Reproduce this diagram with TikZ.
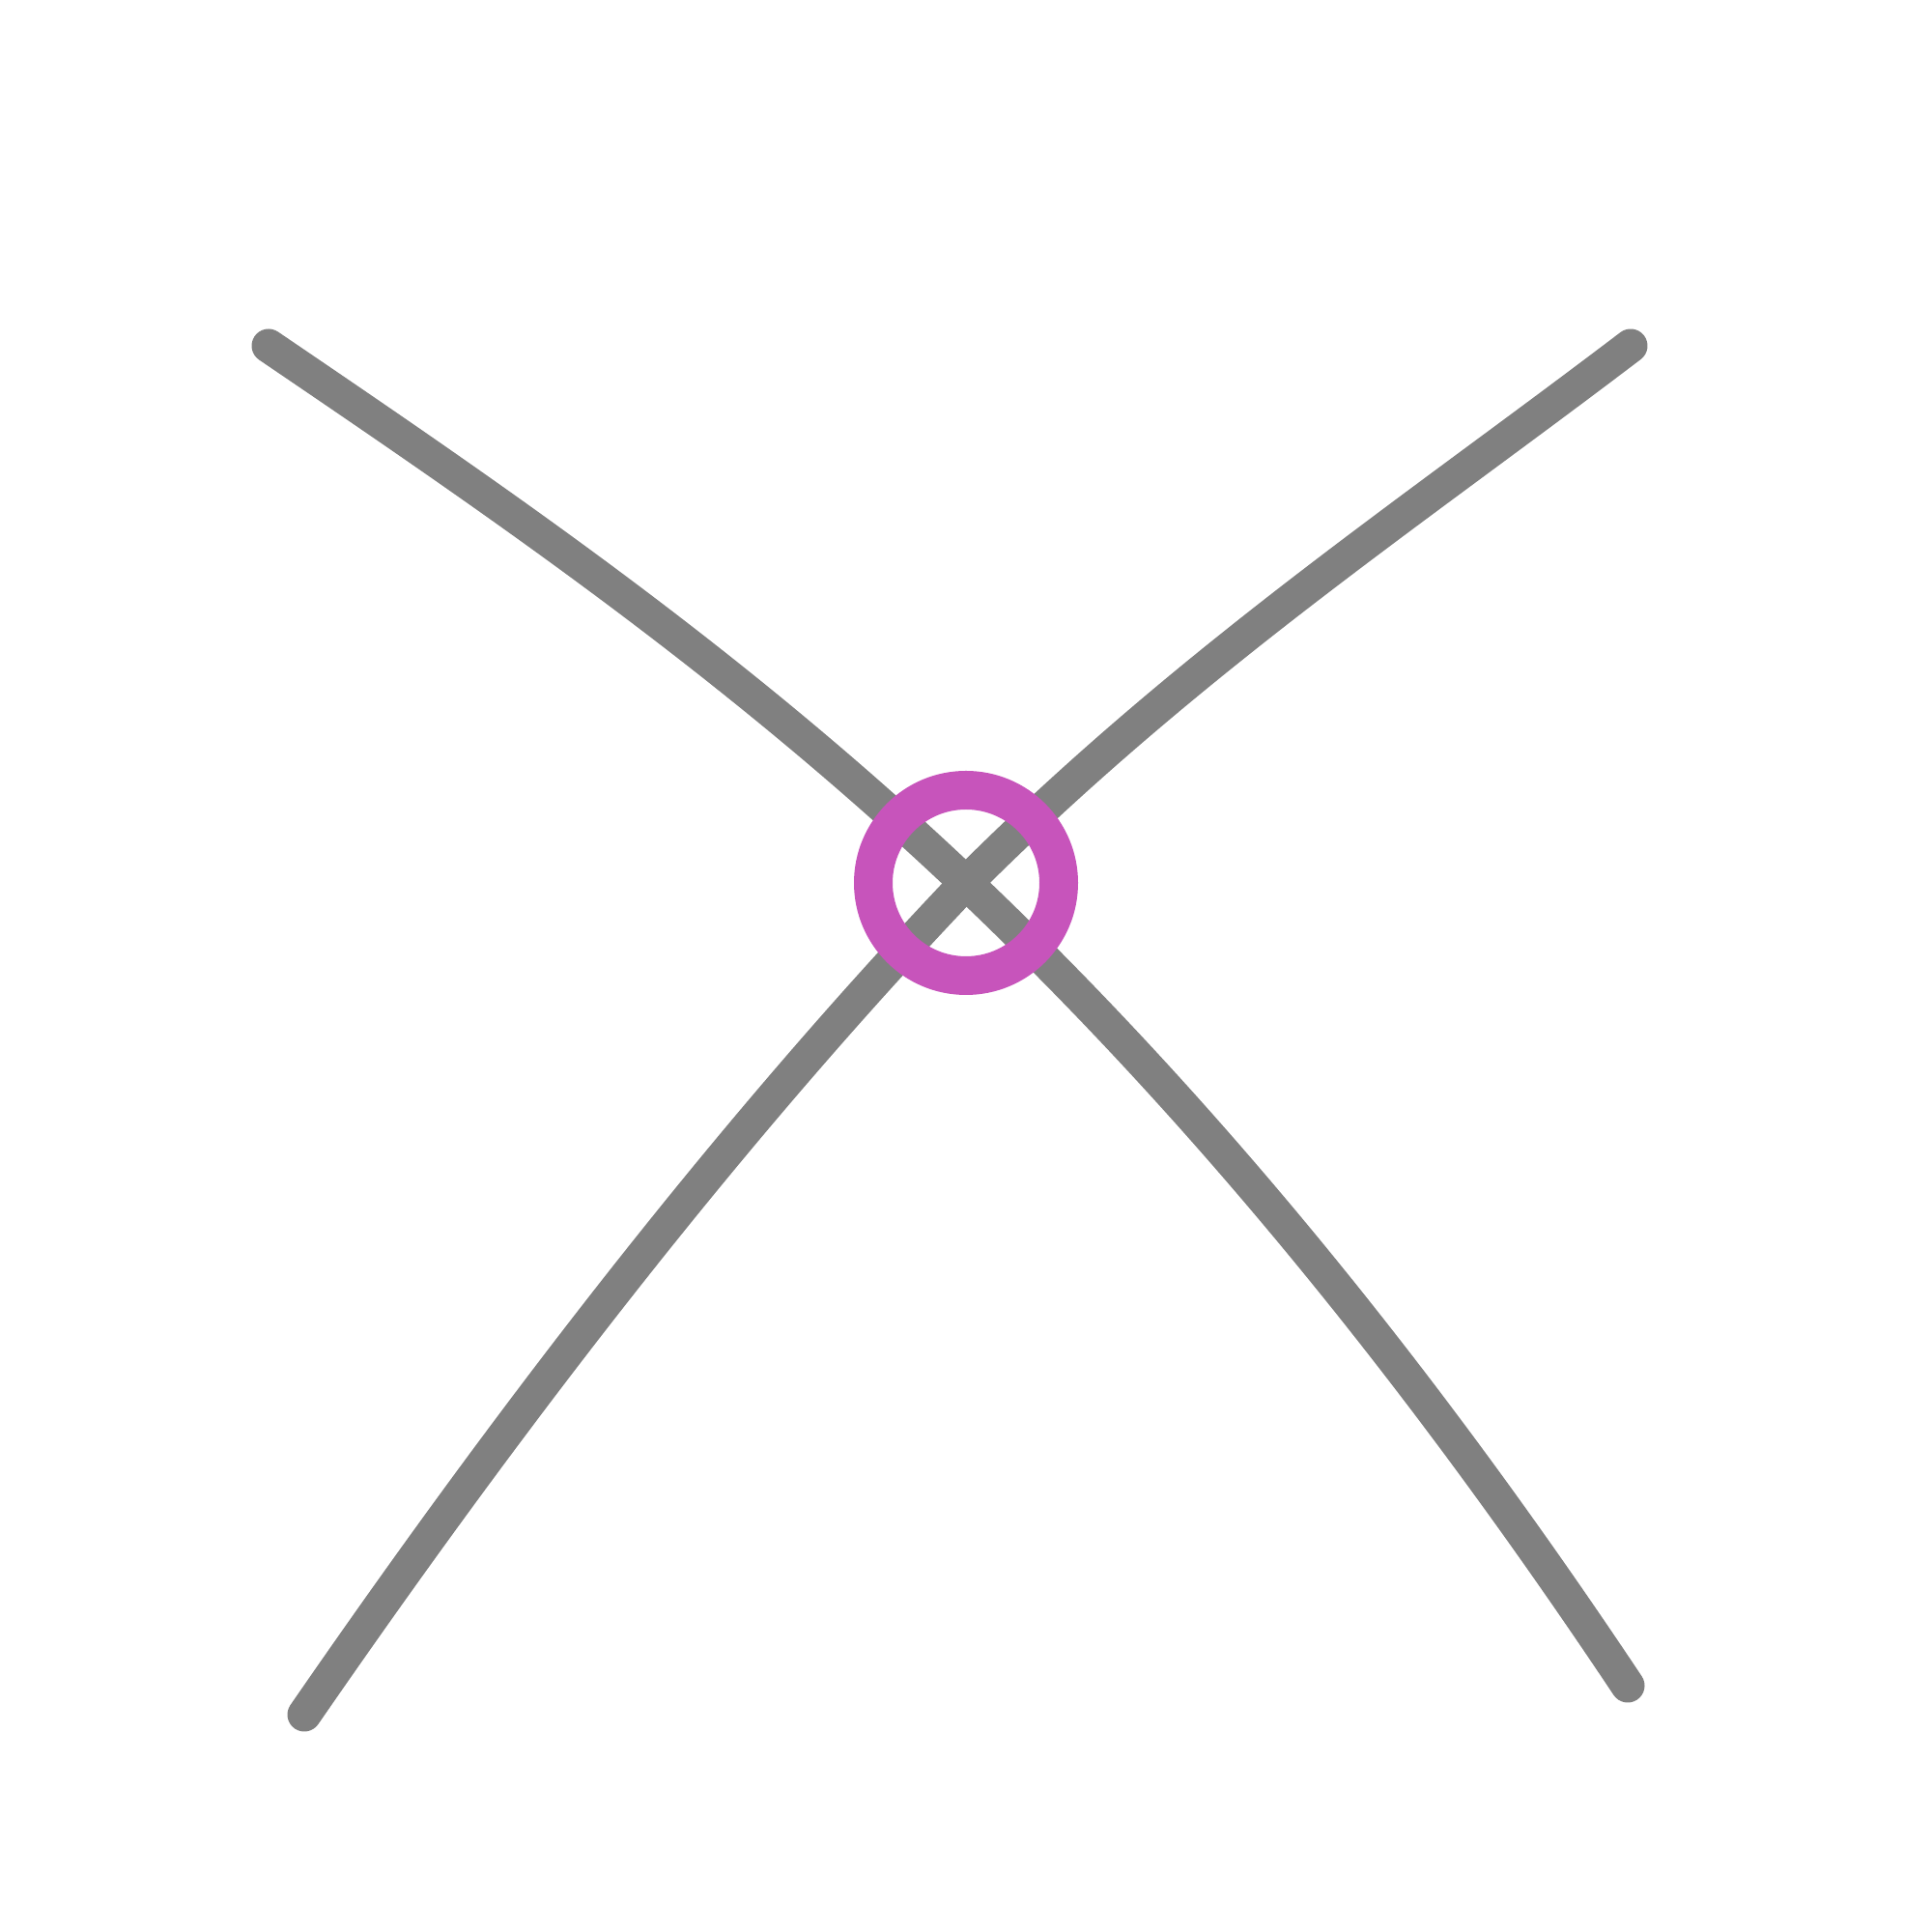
\documentclass[tikz,border=0pt]{standalone}
\usepackage{tikz}
\definecolor{vongtron}{RGB}{199,84,187}

\begin{document}
\begin{tikzpicture}[line cap=round]

    % 1. Khung hình 20 x 20, tâm vòng tròn O và bốn đầu mút
    \useasboundingbox (0,0) rectangle (20,20);
    \coordinate (O) at (10, 10.86);
    \coordinate (A) at (2.78, 16.42);   % trên trái
    \coordinate (B) at (16.85, 2.55);   % dưới phải
    \coordinate (C) at (16.88, 16.42);  % trên phải
    \coordinate (D) at (3.15, 2.25);    % dưới trái

    % 2. Đường cong thứ nhất A -> O -> B (vẽ phía sau)
    \draw[line width=0.35cm, gray] (A) .. controls (5.18,14.79) and (7.6,13.14) .. (O)
        .. controls (12.3,8.675) and (14.55,6.0) .. (B);

    % 3. Đường cong thứ hai C -> O -> D (vẽ phía trước)
    \draw[line width=0.35cm, gray] (C) .. controls (14.58,14.67) and (12.3,13.16) .. (O)
        .. controls (7.7,8.45) and (5.45,5.585) .. (D);

    % 4. Vòng tròn tâm O
    \draw[line width=0.4cm, vongtron] (O) circle (0.96cm);

\end{tikzpicture}
\end{document}
